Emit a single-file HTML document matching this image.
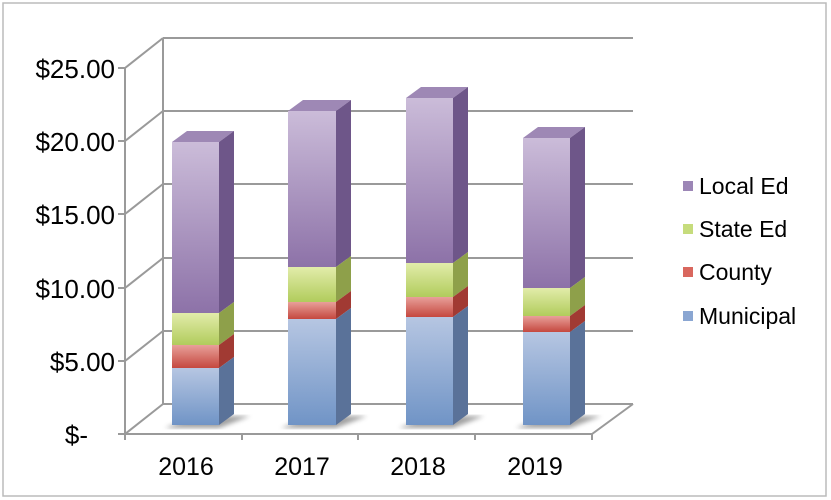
<!DOCTYPE html>
<html><head><meta charset="utf-8"><style>
html,body{margin:0;padding:0;background:#fff;}
svg{display:block;font-family:"Liberation Sans",Arial,sans-serif;}
</style></head><body>
<svg width="831" height="500" viewBox="0 0 831 500" xmlns="http://www.w3.org/2000/svg">
<defs>
<linearGradient id="lf" x1="0" y1="0" x2="0" y2="1"><stop offset="0" stop-color="#cbbcd9"/><stop offset="1" stop-color="#8d72a8"/></linearGradient>
<linearGradient id="sf" x1="0" y1="0" x2="0" y2="1"><stop offset="0" stop-color="#e2ecaa"/><stop offset="1" stop-color="#b1cc5c"/></linearGradient>
<linearGradient id="cf" x1="0" y1="0" x2="0" y2="1"><stop offset="0" stop-color="#e8a09a"/><stop offset="1" stop-color="#c5483f"/></linearGradient>
<linearGradient id="mf" x1="0" y1="0" x2="0" y2="1"><stop offset="0" stop-color="#b6c6e2"/><stop offset="1" stop-color="#7094c6"/></linearGradient>
<filter id="bl"><feGaussianBlur stdDeviation="2.5"/></filter>
</defs>
<rect x="3" y="3" width="823" height="493" fill="#fff" stroke="#bbb" stroke-width="1.5"/>
<g stroke="#9a9a9a" stroke-width="2" fill="none">
<path d="M163 38H633M163 111H633M163 184H633M163 258H633M163 331H633M163 404H633"/>
<path d="M163 38V404"/>
<path d="M125 68L163 38M125 141L163 111M125 214L163 184M125 288L163 258M125 361L163 331M125 434L163 404"/>
<path d="M125 68V434H592L633 404"/>
<path d="M118 68H125M118 141H125M118 214H125M118 288H125M118 361H125M118 434H125"/>
<path d="M125 434V440M242 434V440M358 434V440M475 434V440M592 434V440"/>
</g>
<g fill="#555" opacity="0.55" filter="url(#bl)">
<path d="M165 428L219 428L250 416L196 416Z"/>
<path d="M281 428L336 428L367 416L312 416Z"/>
<path d="M399 428L453 428L484 416L430 416Z"/>
<path d="M516 428L570 428L601 416L547 416Z"/>
</g>
<g>
<rect x="172" y="142" width="47" height="171" fill="url(#lf)"/>
<rect x="172" y="313" width="47" height="32" fill="url(#sf)"/>
<rect x="172" y="345" width="47" height="23" fill="url(#cf)"/>
<rect x="172" y="368" width="47" height="57" fill="url(#mf)"/>
<path d="M172 142L187 131H234L219 142Z" fill="#9e88b5"/>
<path d="M219 142L234 131V302L219 313Z" fill="#6e5689"/>
<path d="M219 313L234 302V334L219 345Z" fill="#8ea04a"/>
<path d="M219 345L234 334V357L219 368Z" fill="#a13a33"/>
<path d="M219 368L234 357V414L219 425Z" fill="#5a7299"/>
<rect x="288" y="111" width="48" height="156" fill="url(#lf)"/>
<rect x="288" y="267" width="48" height="35" fill="url(#sf)"/>
<rect x="288" y="302" width="48" height="17" fill="url(#cf)"/>
<rect x="288" y="319" width="48" height="106" fill="url(#mf)"/>
<path d="M288 111L303 100H351L336 111Z" fill="#9e88b5"/>
<path d="M336 111L351 100V256L336 267Z" fill="#6e5689"/>
<path d="M336 267L351 256V291L336 302Z" fill="#8ea04a"/>
<path d="M336 302L351 291V308L336 319Z" fill="#a13a33"/>
<path d="M336 319L351 308V414L336 425Z" fill="#5a7299"/>
<rect x="406" y="98" width="47" height="165" fill="url(#lf)"/>
<rect x="406" y="263" width="47" height="34" fill="url(#sf)"/>
<rect x="406" y="297" width="47" height="20" fill="url(#cf)"/>
<rect x="406" y="317" width="47" height="108" fill="url(#mf)"/>
<path d="M406 98L421 87H468L453 98Z" fill="#9e88b5"/>
<path d="M453 98L468 87V252L453 263Z" fill="#6e5689"/>
<path d="M453 263L468 252V286L453 297Z" fill="#8ea04a"/>
<path d="M453 297L468 286V306L453 317Z" fill="#a13a33"/>
<path d="M453 317L468 306V414L453 425Z" fill="#5a7299"/>
<rect x="523" y="138" width="47" height="150" fill="url(#lf)"/>
<rect x="523" y="288" width="47" height="28" fill="url(#sf)"/>
<rect x="523" y="316" width="47" height="16" fill="url(#cf)"/>
<rect x="523" y="332" width="47" height="93" fill="url(#mf)"/>
<path d="M523 138L538 127H585L570 138Z" fill="#9e88b5"/>
<path d="M570 138L585 127V277L570 288Z" fill="#6e5689"/>
<path d="M570 288L585 277V305L570 316Z" fill="#8ea04a"/>
<path d="M570 316L585 305V321L570 332Z" fill="#a13a33"/>
<path d="M570 332L585 321V414L570 425Z" fill="#5a7299"/>
</g>
<g font-size="26" fill="#000" text-anchor="end">
<text x="115" y="78">$25.00</text>
<text x="115" y="151">$20.00</text>
<text x="115" y="224">$15.00</text>
<text x="115" y="298">$10.00</text>
<text x="115" y="371">$5.00</text>
<text x="88" y="444">$-</text>
</g>
<g font-size="25" fill="#000" text-anchor="middle">
<text x="186" y="475">2016</text>
<text x="302" y="475">2017</text>
<text x="418" y="475">2018</text>
<text x="535" y="475">2019</text>
</g>
<g font-size="23" fill="#000">
<rect x="683" y="181" width="10" height="10" fill="#9c86b6"/><text x="699" y="194">Local Ed</text>
<rect x="683" y="224" width="10" height="10" fill="#c6dc7c"/><text x="699" y="237">State Ed</text>
<rect x="683" y="267" width="10" height="10" fill="#d9675e"/><text x="699" y="280">County</text>
<rect x="683" y="311" width="10" height="10" fill="#8aa6d2"/><text x="699" y="324">Municipal</text>
</g>
</svg>
</body></html>
